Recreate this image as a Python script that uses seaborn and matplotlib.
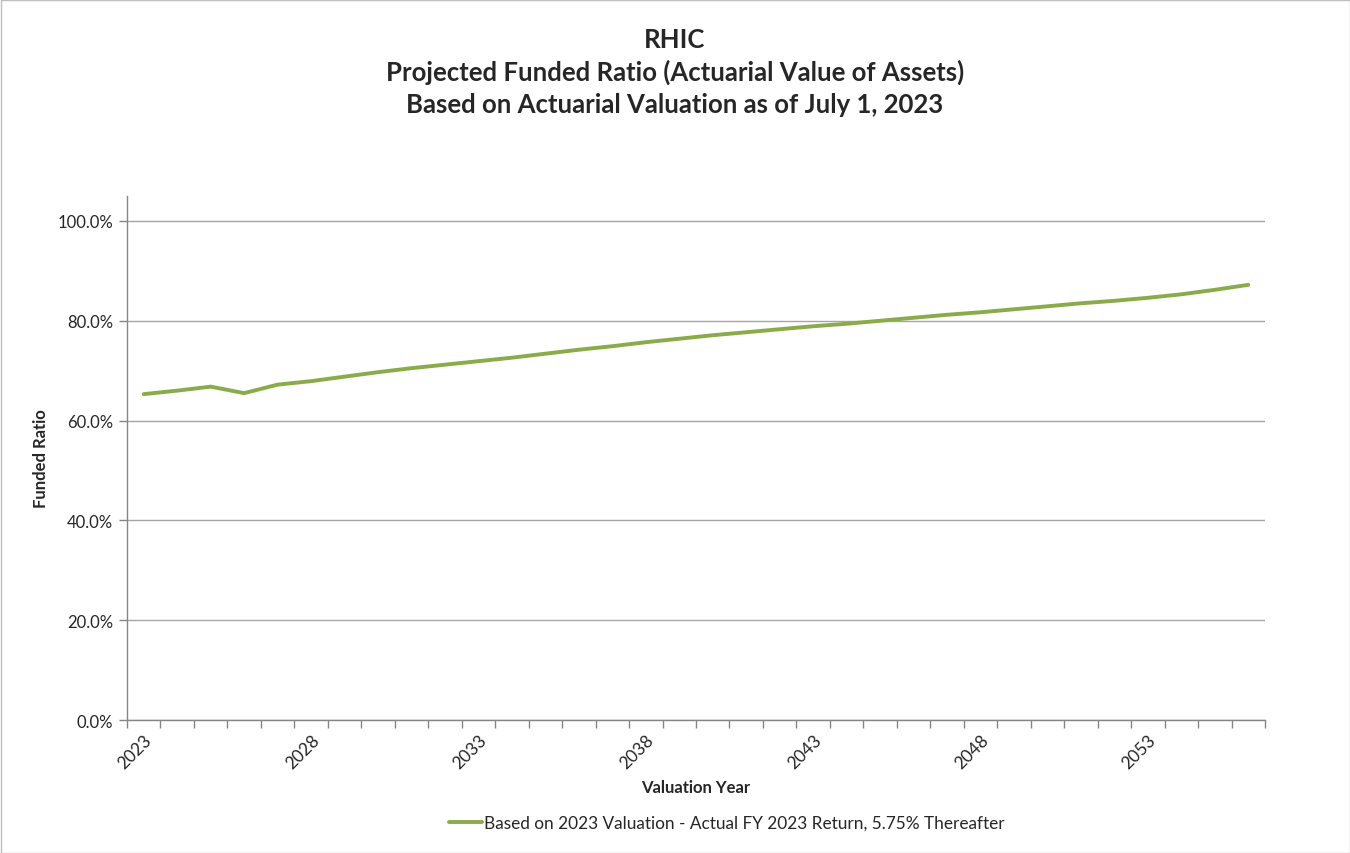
import matplotlib
matplotlib.use("Agg")
import matplotlib.pyplot as plt
import seaborn as sns
import pandas as pd
from matplotlib.ticker import FixedLocator, PercentFormatter
from matplotlib.patches import Rectangle

years = list(range(2023, 2057))
funded_ratio = [65.3, 66.0, 66.8, 65.5, 67.2, 67.9, 68.8, 69.7, 70.5, 71.2,
                71.9, 72.6, 73.4, 74.2, 74.9, 75.7, 76.4, 77.1, 77.7, 78.3,
                78.9, 79.4, 80.0, 80.6, 81.2, 81.7, 82.3, 82.9, 83.5, 84.0,
                84.6, 85.3, 86.2, 87.2]
series_name = "Based on 2023 Valuation - Actual FY 2023 Return, 5.75% Thereafter"
label_years = [2023, 2028, 2033, 2038, 2043, 2048, 2053]
title_lines = ["RHIC", "Projected Funded Ratio (Actuarial Value of Assets)",
               "Based on Actuarial Valuation as of July 1, 2023"]

df = pd.DataFrame({"Year": years, "Funded": funded_ratio, "Series": series_name})

sns.set_theme(style="white")
plt.rcParams['font.family'] = ['Lato', 'DejaVu Sans']

fig = plt.figure(figsize=(13.5, 8.54), dpi=100)
ax = fig.add_axes([127/1350, 1-721/854, (1265-127)/1350, (721-197)/854])

sns.lineplot(data=df, x="Year", y="Funded", hue="Series", palette=["#8AAB4A"],
             linewidth=2.8, ax=ax, legend=True)

ax.set_xlim(2022.5, 2056.5)
ax.set_ylim(0, 105)
ax.yaxis.set_major_locator(FixedLocator([0, 20, 40, 60, 80, 100]))
ax.yaxis.set_major_formatter(PercentFormatter(decimals=1))
ax.grid(axis="y", color="#A6A6A6", linewidth=1.0)
ax.set_axisbelow(True)

ax.set_xticks(label_years)
ax.set_xticklabels([str(y) for y in label_years], rotation=45, ha="right",
                   rotation_mode="anchor", fontsize=12.5)
ax.xaxis.set_minor_locator(FixedLocator([2022.5 + k for k in range(35)]))
ax.tick_params(axis="x", which="major", length=0, pad=8)
ax.tick_params(axis="x", which="minor", length=6, color="#868686", width=1, bottom=True)
ax.tick_params(axis="y", which="major", length=6, color="#868686", width=1, left=True,
               labelsize=12, pad=4)

for s in ["top", "right"]:
    ax.spines[s].set_visible(False)
for s in ["left", "bottom"]:
    ax.spines[s].set_color("#868686")
    ax.spines[s].set_linewidth(1.0)

ax.set_xlabel("Valuation Year", fontsize=12, fontweight="bold", labelpad=6)
ax.set_ylabel("Funded Ratio", fontsize=12, fontweight="bold", labelpad=6)

fig.text(0.5, 1-72.5/854, "\n".join(title_lines), ha="center", va="center",
         fontsize=18.5, fontweight="bold", linespacing=1.4)

leg = ax.legend(loc="center", bbox_to_anchor=(0.527, (721-824)/(721-197)), frameon=False,
                fontsize=12.4, handlelength=1.9, handletextpad=0.1)

fig.patches.append(Rectangle((0.5/1350, 0.5/854), 1-1/1350, 1-1/854, transform=fig.transFigure,
                             fill=False, edgecolor="#BFBFBF", linewidth=1))

fig.savefig("out.png", dpi=100)
